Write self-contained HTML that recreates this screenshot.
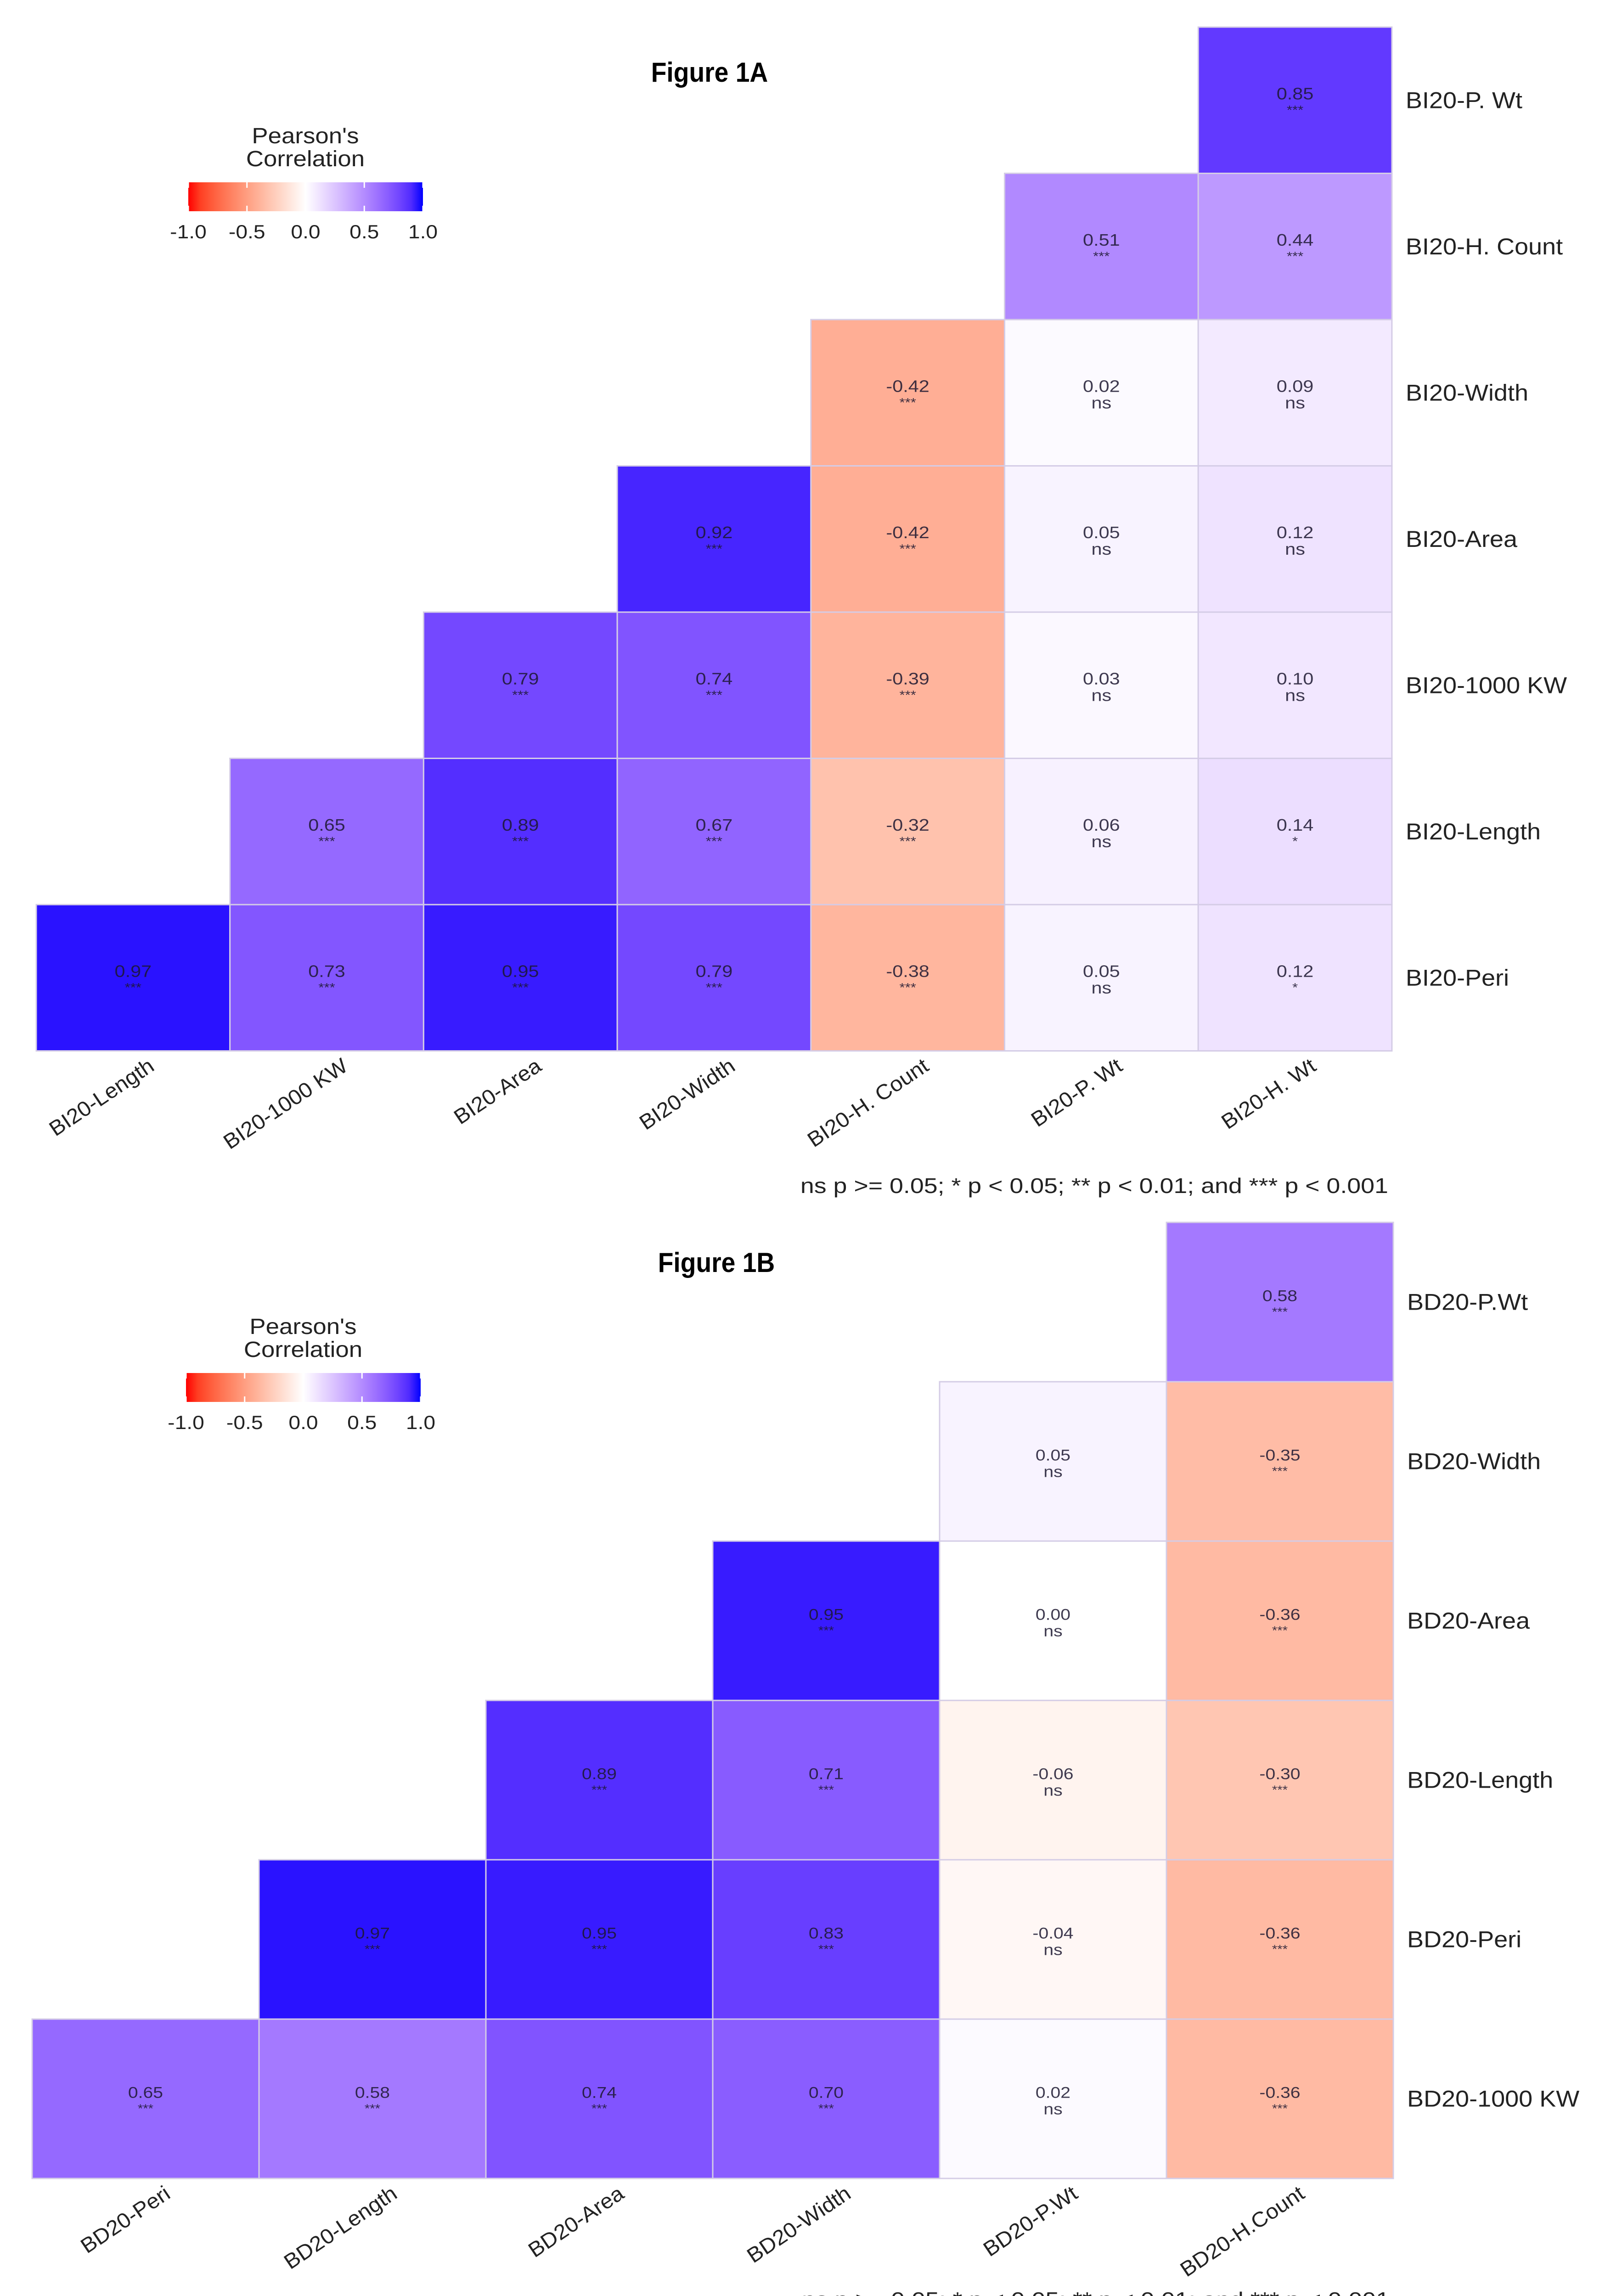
<!DOCTYPE html>
<html><head><meta charset="utf-8"><style>
html,body{margin:0;padding:0;background:#fff;width:3508px;height:5127px;overflow:hidden}
svg{display:block}
text{font-family:"Liberation Sans",Arial,sans-serif}
</style></head><body>
<svg id="root" width="3508" height="5127" viewBox="0 0 3508 5127" xmlns="http://www.w3.org/2000/svg">
<defs>
<linearGradient id="gradA" x1="0" x2="1" y1="0" y2="0"></linearGradient>
</defs>
<rect x="0" y="0" width="3508" height="5127" fill="#fff"/>
<g id="figA"></g>
<g id="figB"></g>
</svg>
<script>
// ---- Figure 1A data ----
const rowsA = ["BI20-P. Wt","BI20-H. Count","BI20-Width","BI20-Area","BI20-1000 KW","BI20-Length","BI20-Peri"];
const colsA = ["BI20-Length","BI20-1000 KW","BI20-Area","BI20-Width","BI20-H. Count","BI20-P. Wt","BI20-H. Wt"];
const valsA = [
 [null,null,null,null,null,null,0.85],
 [null,null,null,null,null,0.51,0.44],
 [null,null,null,null,-0.42,0.02,0.09],
 [null,null,null,0.92,-0.42,0.05,0.12],
 [null,null,0.79,0.74,-0.39,0.03,0.10],
 [null,0.65,0.89,0.67,-0.32,0.06,0.14],
 [0.97,0.73,0.95,0.79,-0.38,0.05,0.12]
];
const sigA = [
 [null,null,null,null,null,null,"***"],
 [null,null,null,null,null,"***","***"],
 [null,null,null,null,"***","ns","ns"],
 [null,null,null,"***","***","ns","ns"],
 [null,null,"***","***","***","ns","ns"],
 [null,"***","***","***","***","ns","*"],
 ["***","***","***","***","***","ns","*"]
];
// ---- Figure 1B data ----
const rowsB = ["BD20-P.Wt","BD20-Width","BD20-Area","BD20-Length","BD20-Peri","BD20-1000 KW"];
const colsB = ["BD20-Peri","BD20-Length","BD20-Area","BD20-Width","BD20-P.Wt","BD20-H.Count"];
const valsB = [
 [null,null,null,null,null,0.58],
 [null,null,null,null,0.05,-0.35],
 [null,null,null,0.95,0.00,-0.36],
 [null,null,0.89,0.71,-0.06,-0.30],
 [null,0.97,0.95,0.83,-0.04,-0.36],
 [0.65,0.58,0.74,0.70,0.02,-0.36]
];
const sigB = [
 [null,null,null,null,null,"***"],
 [null,null,null,null,"ns","***"],
 [null,null,null,"***","ns","***"],
 [null,null,"***","***","ns","***"],
 [null,"***","***","***","ns","***"],
 ["***","***","***","***","ns","***"]
];
const legendTicks = [-1.0,-0.5,0.0,0.5,1.0];
const footnote = "ns p >= 0.05; * p < 0.05; ** p < 0.01; and *** p < 0.001";

const NS = "http://www.w3.org/2000/svg";
function mk(tag, parent, attrs){ const e=document.createElementNS(NS,tag); for(const k in attrs) e.setAttribute(k,attrs[k]); parent.appendChild(e); return e; }
function stretch(el,f){ const L=el.getComputedTextLength(); if(L>0){ el.setAttribute('textLength',(L*f).toFixed(1)); el.setAttribute('lengthAdjust','spacingAndGlyphs'); } }

function s2l(c){c/=255;return c<=0.04045?c/12.92:Math.pow((c+0.055)/1.055,2.4);}
function l2s(c){c=c<=0.0031308?12.92*c:1.055*Math.pow(c,1/2.4)-0.055;return Math.max(0,Math.min(255,Math.round(c*255)));}
function rgb2lab(r,g,b){r=s2l(r);g=s2l(g);b=s2l(b);
 let x=(0.4124*r+0.3576*g+0.1805*b)/0.95047,y=(0.2126*r+0.7152*g+0.0722*b),z=(0.0193*r+0.1192*g+0.9505*b)/1.08883;
 const f=t=>t>0.008856?Math.cbrt(t):7.787*t+16/116; x=f(x);y=f(y);z=f(z);
 return [116*y-16,500*(x-y),200*(y-z)];}
function lab2rgb(L,a,b){let y=(L+16)/116,x=a/500+y,z=y-b/200;
 const fi=t=>t*t*t>0.008856?t*t*t:(t-16/116)/7.787; x=fi(x)*0.95047;y=fi(y);z=fi(z)*1.08883;
 const r=3.2406*x-1.5372*y-0.4986*z,g=-0.9689*x+1.8758*y+0.0415*z,bb=0.0557*x-0.2040*y+1.0570*z;
 return "rgb("+l2s(r)+","+l2s(g)+","+l2s(bb)+")";}
const LW=rgb2lab(255,255,255),LB=rgb2lab(0,0,255),LR=rgb2lab(255,0,0);
function colorScale(v){const t=Math.min(1,Math.abs(v));const e=v>=0?LB:LR;
 return lab2rgb(LW[0]+(e[0]-LW[0])*t,LW[1]+(e[1]-LW[1])*t,LW[2]+(e[2]-LW[2])*t);}

const grad=document.getElementById('gradA');
for(let i=0;i<=20;i++){const v=-1+i*0.1;mk('stop',grad,{offset:(i*5)+'%','stop-color':colorScale(v)});}

function drawFig(g, cfg){
 const {rows,cols,vals,sigs,x0,y0,cw,rh,title,titleX,titleY,legX,legY,valSize,lblEnd} = cfg;
 const xScale = c => x0 + c*cw;
 const yScale = r => y0 + r*rh;
 const t=mk('text',g,{x:titleX,y:titleY,'font-size':60,'font-weight':'bold','text-anchor':'middle',fill:'#000'});
 t.textContent=title;
 
 
 stretch(t,0.92);
 const lg=mk('g',g,{});
 
 
 const lt1=mk('text',lg,{x:legX+255,y:legY-85,'font-size':48,'text-anchor':'middle',fill:'#222'}); lt1.textContent="Pearson's";
 const lt2=mk('text',lg,{x:legX+255,y:legY-35,'font-size':48,'text-anchor':'middle',fill:'#222'}); lt2.textContent="Correlation";
 stretch(lt1,1.1); stretch(lt2,1.1);
 const bar=mk('rect',lg,{x:legX,y:legY,width:511,height:63,fill:'url(#gradA)'});
 
 
 const lx=v=>legX+(v+1)/2*511;
 legendTicks.forEach(v=>{
  mk('line',lg,{x1:lx(v),x2:lx(v),y1:legY,y2:legY+12,stroke:'#fff','stroke-width':3});
  mk('line',lg,{x1:lx(v),x2:lx(v),y1:legY+51,y2:legY+63,stroke:'#fff','stroke-width':3});
  const tt=mk('text',lg,{x:lx(v),y:legY+122,'font-size':42,'text-anchor':'middle',fill:'#222'});
  tt.textContent=v.toFixed(1);
  
  
  stretch(tt,1.1);
 });
 rows.forEach((rn,r)=>{
  cols.forEach((cn,c)=>{
   const v=vals[r][c]; if(v===null) return;
   const cell=mk('rect',g,{x:xScale(c),y:yScale(r),width:cw,height:rh,fill:colorScale(v),stroke:'#d4cce6','stroke-width':3});
   
   
   const cx=xScale(c)+cw/2, cy=yScale(r)+rh/2;
   const tv=mk('text',g,{x:cx,y:cy-2,'font-size':valSize,'text-anchor':'middle',fill:'#1c1830','fill-opacity':0.85});
   tv.textContent=v.toFixed(2);
   
   
   stretch(tv,1.15);
   const ns=sigs[r][c]==='ns';
   const ts=mk('text',g,{x:cx,y:cy+(ns?34:30),'font-size':ns?valSize:valSize*0.75,'text-anchor':'middle',fill:'#1c1830','fill-opacity':0.85});
   ts.textContent=sigs[r][c];
   
   
   stretch(ts,1.15);
  });
  const rl=mk('text',g,{x:xScale(cols.length)+30,y:yScale(r)+rh/2+17,'font-size':50,fill:'#222'});
  rl.textContent=rn;
  
  
  stretch(rl,1.08);
 });
 const yb=yScale(rows.length);
 cols.forEach((cn,c)=>{
  const ex=xScale(c)+cw/2+lblEnd, ey=yb+12;
  const cl=mk('text',g,{x:ex,y:ey,'font-size':46,'text-anchor':'end',fill:'#222',transform:'rotate(-34 '+ex+' '+ey+') translate(0 34)'});
  cl.textContent=cn;
  
  
  stretch(cl,1.05);
 });
 const fn=mk('text',g,{x:xScale(cols.length)-8,y:cfg.footY,'font-size':46,'text-anchor':'end',fill:'#222',textLength:1280,lengthAdjust:'spacingAndGlyphs'});
 fn.textContent=footnote;
 
 
}

drawFig(document.getElementById('figA'),{rows:rowsA,cols:colsA,vals:valsA,sigs:sigA,x0:79,y0:59,cw:421.7,rh:318.5,
 title:"Figure 1A",titleX:1545,titleY:178,legX:410,legY:397,valSize:36,lblEnd:30,footY:2598});
drawFig(document.getElementById('figB'),{rows:rowsB,cols:colsB,vals:valsB,sigs:sigB,x0:70,y0:2662,cw:494,rh:347,
 title:"Figure 1B",titleX:1560,titleY:2770,legX:405,legY:2990,valSize:34,lblEnd:38,footY:5024});
</script>
</body></html>
